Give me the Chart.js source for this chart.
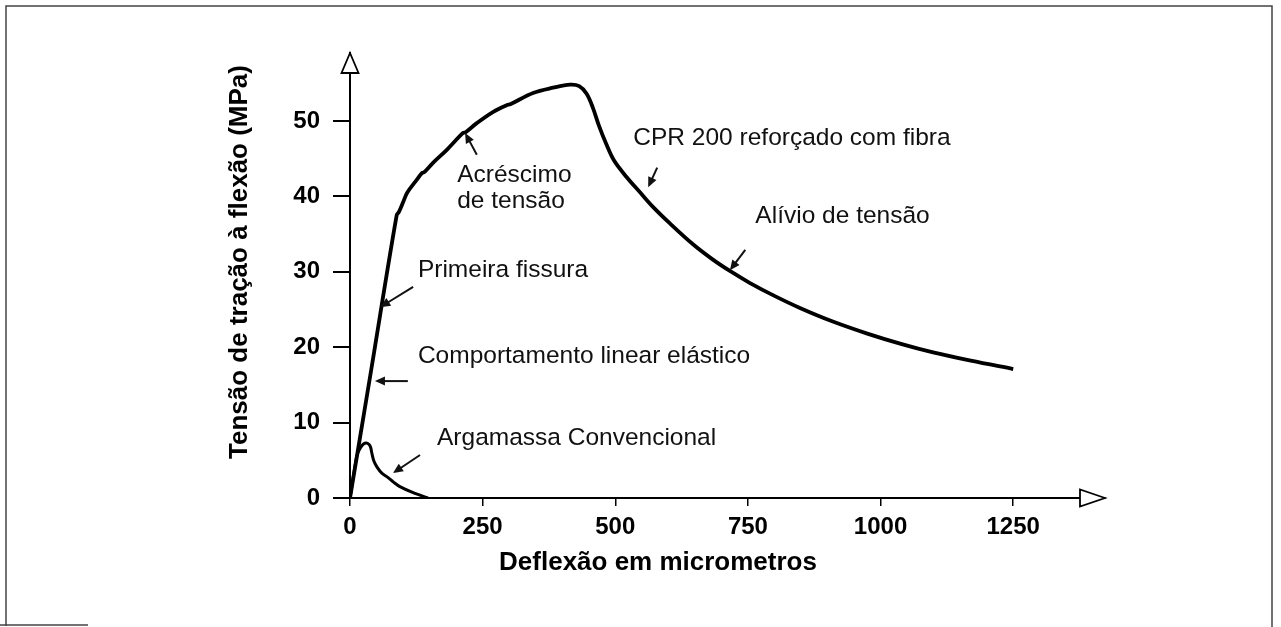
<!DOCTYPE html>
<html>
<head>
<meta charset="utf-8">
<script src="https://cdn.jsdelivr.net/npm/chart.js@4.4.1/dist/chart.umd.min.js"></script>
<style>
  body { margin: 0; background: #fff; }
  canvas { display: block; }
</style>
</head>
<body>
<canvas id="flexChart" width="1281" height="627"></canvas>
<script>
// CPR 200 reforçado com fibra (deflexão em µm, tensão em MPa)
const cprX = [0, 40, 88, 92, 100, 108, 126, 136, 140, 156, 183, 213, 218, 239, 270, 296, 302, 345, 383, 415,
              432, 446, 458, 469, 482, 498, 522, 547, 571, 603, 647, 684, 716, 754, 800, 848, 910, 975, 1040, 1099, 1170, 1250];
const cprY = [0, 17, 37.5, 37.9, 39.2, 40.5, 42.2, 43.1, 43.2, 44.4, 46.2, 48.4, 48.5, 49.7, 51.2, 52.1, 52.2, 53.7, 54.4, 54.8,
              54.6, 53.6, 51.7, 49.4, 47.1, 44.7, 42.5, 40.5, 38.6, 36.4, 33.6, 31.6, 30.1, 28.5, 26.8, 25.2, 23.4, 21.8, 20.4, 19.3, 18.2, 17.1];

// Argamassa convencional
const argX = [0, 13, 20, 26, 31, 36, 39, 41, 45, 51, 60, 70, 82, 94, 119, 147];
const argY = [0, 5.6, 6.7, 7.2, 7.3, 7.1, 6.7, 6.0, 4.9, 4.1, 3.3, 2.8, 2.1, 1.5, 0.7, 0];

const xTicks = [0, 250, 500, 750, 1000, 1250];
const yTicks = [0, 10, 20, 30, 40, 50];
const xTitle = 'Deflexão em micrometros';
const yTitle = 'Tensão de tração à flexão (MPa)';

const FONT = '"Liberation Sans", Arial, Helvetica, sans-serif';

// notes placed in data units (left edge, baseline)
const notes = [
  { text: 'CPR 200 reforçado com fibra', x: 534, y: 46.8 },
  { text: 'Alívio de tensão', x: 764, y: 36.5 },
  { text: 'Acréscimo', x: 202, y: 41.9 },
  { text: 'de tensão', x: 202, y: 38.4 },
  { text: 'Primeira fissura', x: 128, y: 29.3 },
  { text: 'Comportamento linear elástico', x: 128, y: 17.9 },
  { text: 'Argamassa Convencional', x: 164, y: 7.0 }
];
// pointer arrows, tail -> head, data units
const arrows = [
  [579, 43.8, 562, 41.2],
  [745, 32.9, 716, 30.2],
  [239, 45.5, 217, 48.4],
  [119, 28.0, 57, 25.3],
  [109, 15.5, 47, 15.5],
  [132, 5.7, 81, 3.3]
];

function toPoints(xs, ys) {
  return xs.map((x, i) => ({ x: x, y: ys[i] }));
}

function drawArrow(ctx, x1, y1, x2, y2) {
  const a = Math.atan2(y2 - y1, x2 - x1);
  const len = 10, hw = 4.5;
  ctx.beginPath();
  ctx.moveTo(x1, y1);
  ctx.lineTo(x2 - Math.cos(a) * len * 0.7, y2 - Math.sin(a) * len * 0.7);
  ctx.stroke();
  ctx.beginPath();
  ctx.moveTo(x2, y2);
  ctx.lineTo(x2 - Math.cos(a) * len - Math.sin(a) * hw, y2 - Math.sin(a) * len + Math.cos(a) * hw);
  ctx.lineTo(x2 - Math.cos(a) * len + Math.sin(a) * hw, y2 - Math.sin(a) * len - Math.cos(a) * hw);
  ctx.closePath();
  ctx.fill();
}

const decorPlugin = {
  id: 'decor',
  afterDraw(chart) {
    const ctx = chart.ctx;
    const xs = chart.scales.x, ys = chart.scales.y;
    const area = chart.chartArea;
    ctx.save();

    // outer frame
    ctx.strokeStyle = '#444';
    ctx.lineWidth = 1.5;
    ctx.beginPath();
    ctx.moveTo(6, 626);
    ctx.lineTo(6, 6);
    ctx.lineTo(1272, 6);
    ctx.lineTo(1272, 627);
    ctx.moveTo(0, 625);
    ctx.lineTo(88, 625);
    ctx.stroke();

    // axis arrow heads (open triangles)
    ctx.strokeStyle = '#000';
    ctx.fillStyle = '#fff';
    ctx.lineWidth = 1.8;
    ctx.beginPath();
    ctx.moveTo(area.left, area.top);
    ctx.lineTo(area.left - 8.5, area.top + 20);
    ctx.lineTo(area.left + 8.5, area.top + 20);
    ctx.closePath();
    ctx.fill();
    ctx.stroke();
    ctx.beginPath();
    ctx.moveTo(area.right, area.bottom);
    ctx.lineTo(area.right - 25, area.bottom - 8.5);
    ctx.lineTo(area.right - 25, area.bottom + 8.5);
    ctx.closePath();
    ctx.fill();
    ctx.stroke();

    // axis titles
    ctx.fillStyle = '#000';
    ctx.font = 'bold 26px ' + FONT;
    ctx.textAlign = 'center';
    ctx.textBaseline = 'middle';
    ctx.fillText(xTitle, 658, 563);
    ctx.save();
    ctx.translate(240, 262);
    ctx.rotate(-Math.PI / 2);
    ctx.fillText(yTitle, 0, 0);
    ctx.restore();

    // notes
    ctx.font = '24.5px ' + FONT;
    ctx.textAlign = 'left';
    ctx.textBaseline = 'alphabetic';
    ctx.fillStyle = '#111';
    notes.forEach(n => {
      ctx.fillText(n.text, xs.getPixelForValue(n.x), ys.getPixelForValue(n.y));
    });

    // arrows
    ctx.strokeStyle = '#111';
    ctx.fillStyle = '#111';
    ctx.lineWidth = 2;
    arrows.forEach(a => {
      drawArrow(ctx, xs.getPixelForValue(a[0]), ys.getPixelForValue(a[1]),
                xs.getPixelForValue(a[2]), ys.getPixelForValue(a[3]));
    });
    ctx.restore();
  }
};

const ctx = document.getElementById('flexChart').getContext('2d');
const chart = new Chart(ctx, {
  type: 'scatter',
  data: {
    datasets: [
      {
        label: 'CPR 200 reforçado com fibra',
        data: toPoints(cprX, cprY),
        showLine: true,
        borderColor: '#000',
        borderWidth: 3.8,
        pointRadius: 0,
        tension: 0.35
      },
      {
        label: 'Argamassa Convencional',
        data: toPoints(argX, argY),
        showLine: true,
        borderColor: '#000',
        borderWidth: 3,
        pointRadius: 0,
        tension: 0.3
      }
    ]
  },
  options: {
    responsive: false,
    animation: false,
    devicePixelRatio: 1,
    layout: { padding: { left: 0, top: 53, right: 176, bottom: 0 } },
    plugins: {
      legend: { display: false },
      tooltip: { enabled: false }
    },
    scales: {
      x: {
        type: 'linear',
        min: 0,
        max: 1423,
        afterFit: s => { s.height = 129; },
        afterBuildTicks: s => { s.ticks = xTicks.map(v => ({ value: v })); },
        border: { color: '#000', width: 2 },
        grid: { drawOnChartArea: false, drawTicks: true, tickLength: 8, color: '#000', lineWidth: 1.5 },
        ticks: { color: '#000', padding: 7, callback: v => String(v), font: { family: FONT, size: 24, weight: 'bold' } }
      },
      y: {
        type: 'linear',
        min: 0,
        max: 59,
        afterFit: s => { s.width = 350; },
        afterBuildTicks: s => { s.ticks = yTicks.map(v => ({ value: v })); },
        border: { color: '#000', width: 2 },
        grid: { drawOnChartArea: false, drawTicks: true, tickLength: 17, color: '#000', lineWidth: 2 },
        ticks: { color: '#000', padding: 13, callback: v => String(v), font: { family: FONT, size: 24, weight: 'bold' } }
      }
    }
  },
  plugins: [decorPlugin]
});
</script>
</body>
</html>
